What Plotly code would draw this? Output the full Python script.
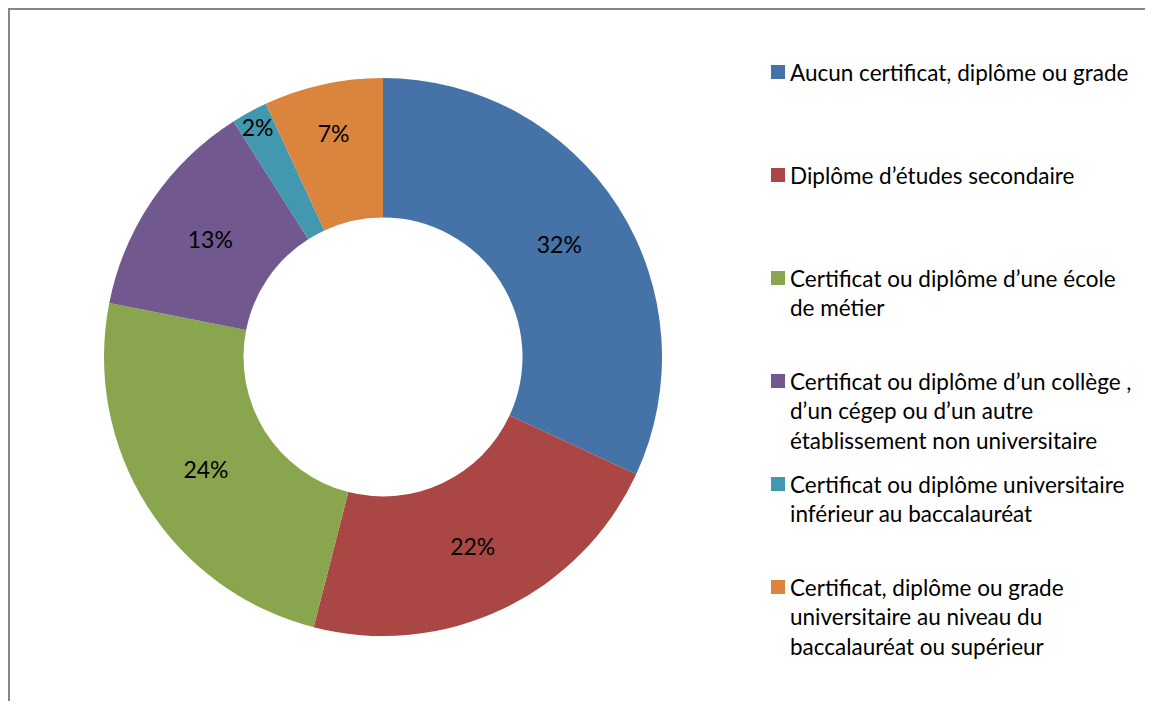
import plotly.graph_objects as go

# Répartition selon le plus haut niveau de scolarité atteint (%)
labels = [
    "Aucun certificat, diplôme ou grade",
    "Diplôme d’études secondaire",
    "Certificat ou diplôme d’une école<br>de métier",
    "Certificat ou diplôme d’un collège ,<br>d’un cégep ou d’un autre<br>établissement non universitaire",
    "Certificat ou diplôme universitaire<br>inférieur au baccalauréat",
    "Certificat, diplôme ou grade<br>universitaire au niveau du<br>baccalauréat ou supérieur",
]
values = [31.9, 22.1, 24.1, 12.9, 2.1, 6.9]
colors = ['#4572A7', '#AA4643', '#89A54E', '#71588F', '#4198AF', '#DB843D']

# la page ajoute une marge de 8 px autour de la figure
OFF = 8
W, H = 1153 - OFF, 709 - 2 * OFF
FONT = "Lato"


def px(x):
    return (x - OFF) / W


def py(y):
    return 1 - (y - OFF) / H


fig = go.Figure()

fig.add_trace(go.Pie(
    labels=labels,
    values=values,
    hole=0.5,
    sort=False,
    direction='clockwise',
    rotation=0,
    marker=dict(colors=colors, line=dict(width=0)),
    texttemplate="%{percent:.0%}",
    textposition='inside',
    insidetextorientation='horizontal',
    textfont=dict(family=FONT, size=23, color='black'),
    showlegend=False,
    domain=dict(x=[px(383 - 279), px(383 + 279)],
                y=[py(357 + 279), py(357 - 279)]),
))

# Légende dessinée à droite (carré + texte)
shapes = []
annotations = []
for i, (lab, col) in enumerate(zip(labels, colors)):
    cy = 72 + i * 103
    shapes.append(dict(
        type='rect', xref='paper', yref='paper',
        x0=px(771), x1=px(785),
        y0=py(cy + 7), y1=py(cy - 7),
        fillcolor=col, line=dict(width=0),
    ))
    annotations.append(dict(
        x=px(788), y=py(cy - 15),
        xref='paper', yref='paper',
        xanchor='left', yanchor='top', align='left',
        text=lab, showarrow=False,
        font=dict(family=FONT, size=22.5, color='black'),
    ))

# Cadre gris (haut et gauche visibles)
shapes.append(dict(
    type='path', xref='paper', yref='paper',
    path=f"M {1 / W},0 L {1 / W},{1 - 1 / H} L 1,{1 - 1 / H}",
    line=dict(color='#868686', width=2),
))

fig.update_layout(
    width=W,
    height=H,
    margin=dict(l=0, r=0, t=0, b=0),
    paper_bgcolor='white',
    plot_bgcolor='white',
    shapes=shapes,
    annotations=annotations,
    font=dict(family=FONT),
    uniformtext=dict(minsize=23, mode='show'),
)

fig.write_html("out.html")
